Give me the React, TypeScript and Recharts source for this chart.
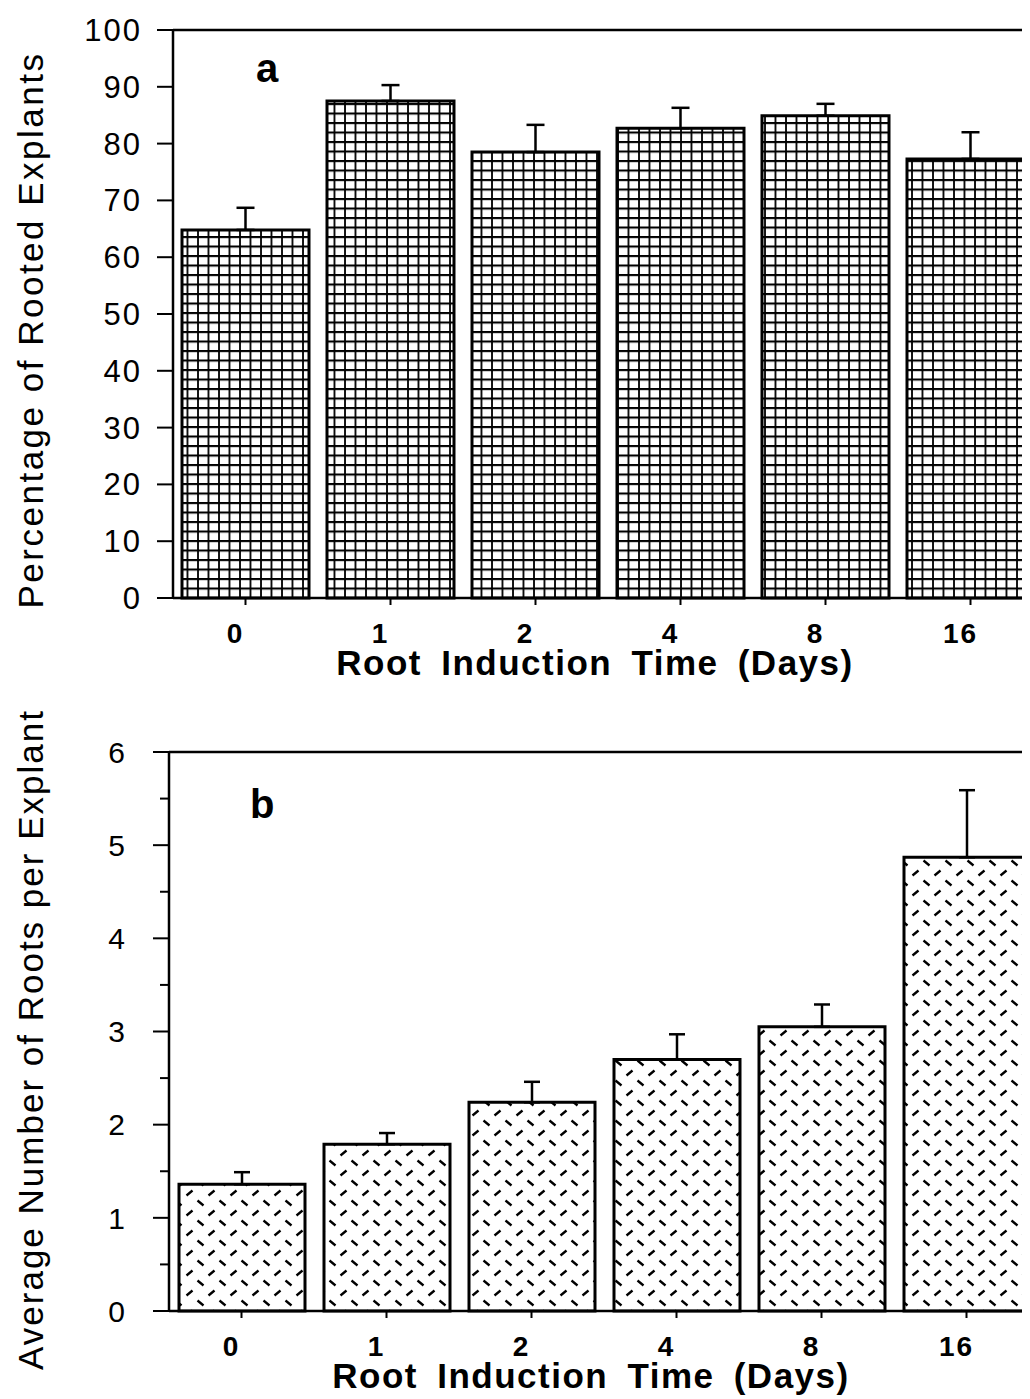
import { BarChart, Bar, XAxis, YAxis, ErrorBar, ReferenceLine } from 'recharts'

const days = ['0', '1', '2', '4', '8', '16']
const rootedPct = [64.8, 87.5, 78.5, 82.7, 84.9, 77.3]
const rootedPctErr = [3.9, 2.8, 4.8, 3.6, 2.1, 4.7]
const rootsPerExplant = [1.36, 1.79, 2.24, 2.7, 3.05, 4.87]
const rootsPerExplantErr = [0.13, 0.12, 0.22, 0.27, 0.24, 0.72]
const pctTicks = [0, 10, 20, 30, 40, 50, 60, 70, 80, 90, 100]
const rootTicks = [0, 0.5, 1, 1.5, 2, 2.5, 3, 3.5, 4, 4.5, 5, 5.5, 6]

const FONT = '"Liberation Sans", Arial, Helvetica, sans-serif'

const topData = days.map((d, i) => ({ day: d, value: rootedPct[i], err: [0, rootedPctErr[i]] }))
const bottomData = days.map((d, i) => ({ day: d, value: rootsPerExplant[i], err: [0, rootsPerExplantErr[i]] }))

function XTick({ x, y, payload }: any) {
  return (
    <text x={x - 10} y={y + 36} textAnchor="middle" fontFamily={FONT} fontSize={28} fontWeight="bold" letterSpacing={2} fill="#000">
      {payload.value}
    </text>
  )
}

function XTitle({ viewBox }: any) {
  const cx = viewBox.x + viewBox.width / 2 - 13
  return (
    <text x={cx} y={viewBox.y + 77} textAnchor="middle" fontFamily={FONT} fontSize={35} fontWeight="bold" letterSpacing={1.5} wordSpacing={8} fill="#000">
      Root Induction Time (Days)
    </text>
  )
}

function YTitle({ viewBox, text, dy, spacing }: any) {
  const cx = 22
  const cy = viewBox.y + viewBox.height / 2 + dy
  return (
    <text x={cx} y={cy} transform={`rotate(-90 ${cx} ${cy})`} textAnchor="middle" dominantBaseline="central" fontFamily={FONT} fontSize={35} letterSpacing={spacing} fill="#000">
      {text}
    </text>
  )
}

// bottom panel: labels every 1, short minor ticks every 0.5
function RootTick({ x, y, payload }: any) {
  const axisX = x + 44
  const major = payload.value % 1 === 0
  return (
    <g>
      <line x1={major ? axisX - 16 : axisX - 9} x2={axisX} y1={y} y2={y} stroke="#000" strokeWidth={2} />
      {major && (
        <text x={x} y={y} dy="0.36em" textAnchor="end" fontFamily={FONT} fontSize={30} fill="#000">
          {payload.value}
        </text>
      )}
    </g>
  )
}

export default function App() {
  return (
    <div style={{ position: 'relative', width: 1022, height: 1391, overflow: 'hidden', background: '#fff' }}>
      <svg width={0} height={0} style={{ position: 'absolute' }}>
        <defs>
          <pattern id="grid" patternUnits="userSpaceOnUse" width={10.5} height={9.5}>
            <rect width={10.5} height={9.5} fill="#fff" />
            <line x1={0} x2={10.5} y1={1} y2={1} stroke="#000" strokeWidth={2.2} />
            <line x1={1} x2={1} y1={0} y2={9.5} stroke="#000" strokeWidth={1.8} />
          </pattern>
          <pattern id="dash" patternUnits="userSpaceOnUse" width={22} height={20}>
            <rect width={22} height={20} fill="#fff" />
            <line x1={2.5} y1={7.5} x2={8.5} y2={2.5} stroke="#000" strokeWidth={2.3} />
            <line x1={13.5} y1={12.5} x2={19.5} y2={17.5} stroke="#000" strokeWidth={2.3} />
          </pattern>
        </defs>
      </svg>

      <div style={{ position: 'absolute', left: 0, top: 0 }}>
        <BarChart width={1045} height={680} data={topData} margin={{ top: 22, right: 10, left: 0, bottom: 0 }}>
          <XAxis
            dataKey="day"
            interval={0}
            height={90}
            tick={<XTick />}
            tickSize={7}
            tickLine={{ stroke: '#000', strokeWidth: 2 }}
            axisLine={{ stroke: '#000', strokeWidth: 2.5 }}
            label={<XTitle />}
          />
          <YAxis
            width={165}
            domain={[0, 100]}
            ticks={pctTicks}
            interval={0}
            tickSize={16}
            tickMargin={15}
            tick={{ fill: '#000', fontSize: 31, fontFamily: FONT, letterSpacing: 2 }}
            tickLine={{ stroke: '#000', strokeWidth: 2 }}
            axisLine={{ stroke: '#000', strokeWidth: 2.5 }}
            label={<YTitle text="Percentage of Rooted Explants" dy={16} spacing={2.5} />}
          />
          <ReferenceLine y={100} stroke="#000" strokeWidth={2.5} />
          <Bar dataKey="value" barSize={127} fill="url(#grid)" stroke="#000" strokeWidth={3} isAnimationActive={false}>
            <ErrorBar dataKey="err" width={9} stroke="#000" strokeWidth={2.5} />
          </Bar>
        </BarChart>
      </div>

      <div style={{ position: 'absolute', left: 0, top: 700 }}>
        <BarChart width={1041} height={691} data={bottomData} margin={{ top: 44, right: 10, left: 0, bottom: 0 }}>
          <XAxis
            dataKey="day"
            interval={0}
            height={88}
            tick={<XTick />}
            tickSize={7}
            tickLine={{ stroke: '#000', strokeWidth: 2 }}
            axisLine={{ stroke: '#000', strokeWidth: 2.5 }}
            label={<XTitle />}
          />
          <YAxis
            width={161}
            domain={[0, 6]}
            ticks={rootTicks}
            interval={0}
            tickSize={16}
            tickMargin={28}
            tick={<RootTick />}
            tickLine={false}
            axisLine={{ stroke: '#000', strokeWidth: 2.5 }}
            label={<YTitle text="Average Number of Roots per Explant" dy={8} spacing={2} />}
          />
          <ReferenceLine y={6} stroke="#000" strokeWidth={2.5} />
          <Bar dataKey="value" barSize={126} fill="url(#dash)" stroke="#000" strokeWidth={3} isAnimationActive={false}>
            <ErrorBar dataKey="err" width={8} stroke="#000" strokeWidth={2.5} />
          </Bar>
        </BarChart>
      </div>

      <div style={{ position: 'absolute', left: 248, top: 40, fontFamily: FONT, fontSize: 40, fontWeight: 'bold', lineHeight: '40px' }}>a</div>
      <div style={{ position: 'absolute', left: 242, top: 776, fontFamily: FONT, fontSize: 40, fontWeight: 'bold', lineHeight: '40px' }}>b</div>
    </div>
  )
}
